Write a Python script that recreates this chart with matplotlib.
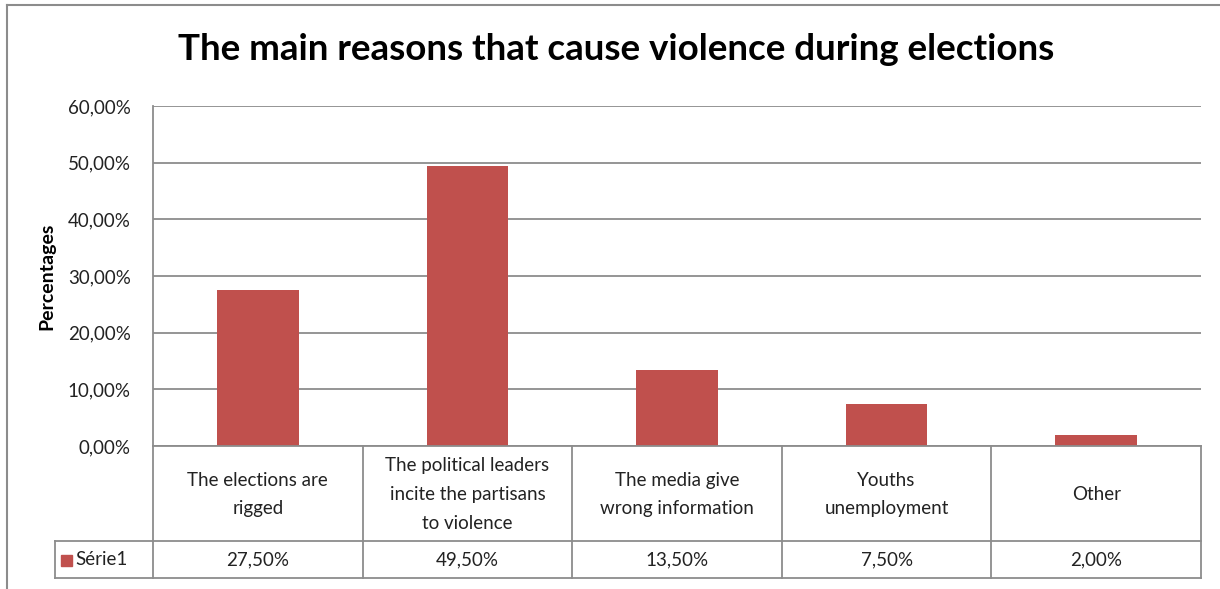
import matplotlib
matplotlib.use("Agg")
import matplotlib.pyplot as plt
from matplotlib.lines import Line2D
from matplotlib.patches import Rectangle

categories = ["The elections are\nrigged",
              "The political leaders\nincite the partisans\nto violence",
              "The media give\nwrong information",
              "Youths\nunemployment",
              "Other"]
values = [27.5, 49.5, 13.5, 7.5, 2.0]
series_name = "Série1"
yticks = [0, 10, 20, 30, 40, 50, 60]
title = "The main reasons that cause violence during elections"
ylabel = "Percentages"

W, H = 1220, 589
BAR = "#C0504D"
GRID = "#8C8C8C"
FONT = ["Lato", "DejaVu Sans"]
TXT = "#222222"
FS = 13.5

def fmt(v):
    return f"{v:.2f}".replace(".", ",") + "%"

fig = plt.figure(figsize=(W / 100, H / 100), dpi=100)
fig.patch.set_facecolor("white")

x0, x1 = 153, 1201
y_top, y_bot = 106, 446
ax = fig.add_axes([x0 / W, 1 - y_bot / H, (x1 - x0) / W, (y_bot - y_top) / H])
n = len(categories)
ax.set_xlim(-0.5, n - 0.5)
ax.set_ylim(0, 60)
ax.bar(range(n), values, width=0.39, color=BAR, zorder=3)
ax.set_yticks(yticks)
ax.set_yticklabels([fmt(t) for t in yticks], fontsize=FS, family=FONT, color=TXT)
ax.tick_params(axis="y", length=0, pad=16)
ax.tick_params(axis="x", length=0, labelbottom=False)
ax.set_xticks([])
ax.grid(axis="y", color=GRID, linewidth=1.3, zorder=0)
for s in ["top", "right", "bottom"]:
    ax.spines[s].set_visible(False)
ax.spines["left"].set_color(GRID)
ax.spines["left"].set_linewidth(1.3)
ax.set_ylabel(ylabel, fontsize=14, fontweight="bold", family=FONT)
ax.yaxis.set_label_coords((47 - x0) / (x1 - x0), 0.5)
ax.yaxis.label.set_va("center")

def fy(py):
    return 1 - py / H

tr = fig.transFigure
row1_top, row1_bot, row2_bot = 446, 541, 578
lw = 1.3
for py, xa in [(row1_top, x0), (row1_bot, 55), (row2_bot, 55)]:
    fig.add_artist(Line2D([xa / W, x1 / W], [fy(py), fy(py)], color=GRID, lw=lw, transform=tr))
colw = (x1 - x0) / n
for i in range(n + 1):
    px = x0 + i * colw
    fig.add_artist(Line2D([px / W, px / W], [fy(row1_top), fy(row2_bot)], color=GRID, lw=lw, transform=tr))
fig.add_artist(Line2D([55 / W, 55 / W], [fy(row1_bot), fy(row2_bot)], color=GRID, lw=lw, transform=tr))

for i, (c, v) in enumerate(zip(categories, values)):
    cx = (x0 + (i + 0.5) * colw) / W
    fig.text(cx, fy((row1_top + row1_bot) / 2 + 1), c, ha="center", va="center",
             fontsize=FS, family=FONT, color=TXT, linespacing=1.85)
    fig.text(cx, fy((row1_bot + row2_bot) / 2), fmt(v), ha="center", va="center",
             fontsize=FS, family=FONT, color=TXT)

fig.add_artist(Rectangle((61 / W, fy(566)), 11 / W, 11 / H, color=BAR, transform=tr))
fig.text(75 / W, fy((row1_bot + row2_bot) / 2), series_name, ha="left", va="center",
         fontsize=FS, family=FONT, color=TXT)

fig.add_artist(Line2D([7 / W, 7 / W], [fy(5), 0], color=GRID, lw=1.5, transform=tr))
fig.add_artist(Line2D([7 / W, 1], [fy(5), fy(5)], color=GRID, lw=1.5, transform=tr))

fig.text(616 / W, fy(50), title, ha="center", va="center", fontsize=26.5,
         fontweight="bold", family=FONT, color="black")

fig.savefig("out.png", dpi=100, facecolor="white")
